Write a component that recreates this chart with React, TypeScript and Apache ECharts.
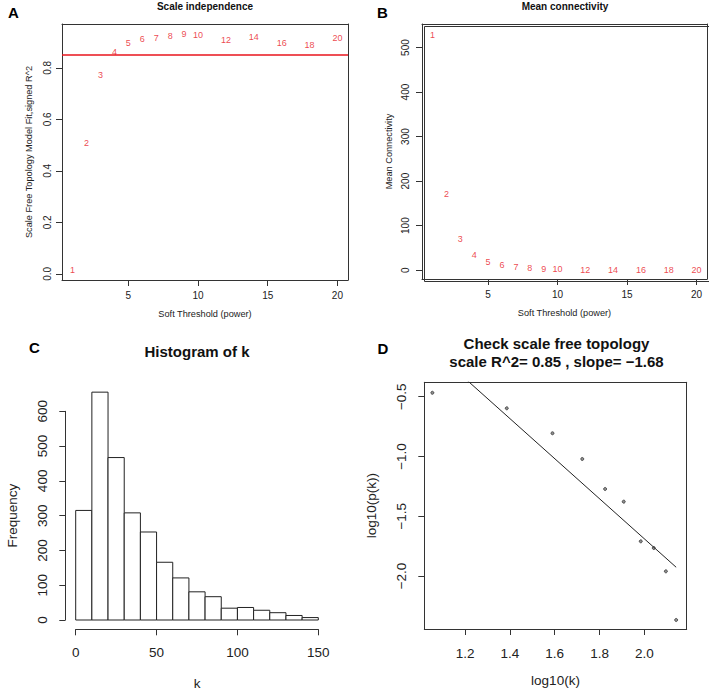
import React, { useEffect, useRef } from "react";
import * as echarts from "echarts";

// ---- Panel A / B : soft-threshold analysis ----
const powers = [1, 2, 3, 4, 5, 6, 7, 8, 9, 10, 12, 14, 16, 18, 20];
const scaleFitR2 = [0.013, 0.507, 0.773, 0.861, 0.895, 0.913, 0.917, 0.922, 0.933, 0.926, 0.908, 0.919, 0.895, 0.887, 0.914];
const meanConnectivity = [529, 171, 70, 34, 18, 10.5, 6.7, 4.5, 2.4, 1.5, 0.8, 0.5, 0.35, 0.25, 0.2];
const r2Cutoff = 0.85;
const powerTicks = [5, 10, 15, 20];
const r2Ticks = [0, 0.2, 0.4, 0.6, 0.8];
const connTicks = [0, 100, 200, 300, 400, 500];

// ---- Panel C : histogram of k ----
const histBinStarts = [0, 10, 20, 30, 40, 50, 60, 70, 80, 90, 100, 110, 120, 130, 140];
const histBinWidth = 10;
const histFreq = [315, 655, 467, 308, 253, 166, 121, 81, 67, 34, 36, 28, 21, 13, 7];
const kTicks = [0, 50, 100, 150];
const freqTicks = [0, 100, 200, 300, 400, 500, 600];

// ---- Panel D : scale free topology check ----
const logK = [1.054, 1.386, 1.59, 1.723, 1.825, 1.908, 1.984, 2.042, 2.096, 2.142];
const logPk = [-0.467, -0.597, -0.806, -1.021, -1.272, -1.378, -1.71, -1.766, -1.961, -2.368];
const fitLineX = [1.054, 2.142];
const fitLineY = [-0.103, -1.927];
const logKTicks = [1.2, 1.4, 1.6, 1.8, 2.0];
const logPkTicks = [-2.0, -1.5, -1.0, -0.5];

const FONT = "'Liberation Sans', Arial, Helvetica, sans-serif";
const AXC = "#333";

const fmt1 = (v: number) => (v < 0 ? "\u2212" + Math.abs(v).toFixed(1) : v.toFixed(1));

export default function App() {
  const ref = useRef<HTMLDivElement>(null);
  useEffect(() => {
    if (!ref.current) return;
    const chart = echarts.init(ref.current, undefined, { renderer: "svg" });

    const grid = (left: number, top: number, width: number, height: number) => ({
      left, top, width, height, containLabel: false, show: false,
    });

    const tick = (len: number) => ({ show: true, length: len, lineStyle: { color: AXC, width: 1 } });
    const line = { show: true, onZero: false, lineStyle: { color: AXC, width: 1 } };

    const frameX = (idx: number, min: number, max: number) => ({
      type: "value", gridIndex: idx, position: "top", min, max,
      axisLine: line, axisTick: { show: false }, axisLabel: { show: false }, splitLine: { show: false },
    });
    const frameY = (idx: number, min: number, max: number) => ({
      type: "value", gridIndex: idx, position: "right", min, max,
      axisLine: line, axisTick: { show: false }, axisLabel: { show: false }, splitLine: { show: false },
    });

    const smallX = (min: number, max: number, name: string, idx: number) => ({
      type: "value", gridIndex: idx, min, max, position: "bottom",
      axisLine: line, splitLine: { show: false },
      axisTick: { ...tick(6), customValues: powerTicks },
      axisLabel: { customValues: powerTicks, fontSize: 10, color: "#222", margin: 10, fontFamily: FONT },
      name, nameLocation: "middle", nameGap: 29,
      nameTextStyle: { fontSize: 9.2, color: "#222", fontFamily: FONT },
    });

    const option: any = {
      animation: false,
      textStyle: { fontFamily: FONT },
      grid: [
        grid(62, 24, 286, 256),
        grid(422, 24, 285, 255),
        grid(75.7, 376.5, 242.6, 243.5),
        grid(75.7, 411.3, 242.6, 208.7),
        grid(424.3, 382.3, 262.4, 246.7),
      ],
      xAxis: [
        smallX(0.24, 20.76, "Soft Threshold (power)", 0),
        smallX(0.24, 20.76, "Soft Threshold (power)", 1),
        {
          type: "value", gridIndex: 2, min: 0, max: 150, interval: 50, offset: 9.3,
          axisLine: line,
          splitLine: { show: false },
          axisTick: tick(6),
          axisLabel: { customValues: kTicks, fontSize: 13.5, color: "#222", margin: 16, fontFamily: FONT },
          name: "k", nameLocation: "middle", nameGap: 47,
          nameTextStyle: { fontSize: 13.5, color: "#222", fontFamily: FONT },
        },
        { type: "value", gridIndex: 3, min: 0, max: 150, show: false },
        {
          type: "value", gridIndex: 4, min: 1.018, max: 2.189, position: "bottom",
          axisLine: line, splitLine: { show: false },
          axisTick: { ...tick(6), customValues: logKTicks },
          axisLabel: { customValues: logKTicks, formatter: (v: number) => fmt1(v), fontSize: 13.5, color: "#222", margin: 17, fontFamily: FONT },
          name: "log10(k)", nameLocation: "middle", nameGap: 44,
          nameTextStyle: { fontSize: 13.5, color: "#222", fontFamily: FONT },
        },
        frameX(0, 0.24, 20.76),
        frameX(1, 0.24, 20.76),
        frameX(4, 1.018, 2.189),
      ],
      yAxis: [
        {
          type: "value", gridIndex: 0, min: -0.024, max: 0.97, position: "left",
          axisLine: line, splitLine: { show: false },
          axisTick: { ...tick(6), customValues: r2Ticks },
          axisLabel: { customValues: r2Ticks, rotate: 90, formatter: (v: number) => fmt1(v), fontSize: 10, color: "#222", margin: 9.5, fontFamily: FONT },
          name: "Scale Free Topology Model Fit,signed R^2", nameLocation: "middle", nameGap: 28.5,
          nameTextStyle: { fontSize: 9.2, color: "#222", fontFamily: FONT },
        },
        {
          type: "value", gridIndex: 1, min: -20, max: 553, position: "left",
          axisLine: line, splitLine: { show: false },
          axisTick: { ...tick(6), customValues: connTicks },
          axisLabel: { customValues: connTicks, rotate: 90, fontSize: 10, color: "#222", margin: 12, fontFamily: FONT },
          name: "Mean Connectivity", nameLocation: "middle", nameGap: 28.5,
          nameTextStyle: { fontSize: 9.2, color: "#222", fontFamily: FONT },
        },
        { type: "value", gridIndex: 2, min: 0, max: 700, show: false },
        {
          type: "value", gridIndex: 3, min: 0, max: 600, interval: 100, offset: 10.4,
          axisLine: line,
          splitLine: { show: false },
          axisTick: tick(6),
          axisLabel: { customValues: freqTicks, rotate: 90, fontSize: 13.5, color: "#222", margin: 16, fontFamily: FONT },
          name: "Frequency", nameLocation: "middle", nameGap: 46,
          nameTextStyle: { fontSize: 13.5, color: "#222", fontFamily: FONT },
        },
        {
          type: "value", gridIndex: 4, min: -2.4435, max: -0.3795, position: "left",
          axisLine: line, splitLine: { show: false },
          axisTick: { ...tick(6), customValues: logPkTicks },
          axisLabel: { customValues: logPkTicks, rotate: 90, formatter: (v: number) => fmt1(v), fontSize: 13.5, color: "#222", margin: 16, fontFamily: FONT },
          name: "log10(p(k))", nameLocation: "middle", nameGap: 46,
          nameTextStyle: { fontSize: 13.5, color: "#222", fontFamily: FONT },
        },
        frameY(0, -0.024, 0.97),
        frameY(1, -20, 553),
        frameY(4, -2.4435, -0.3795),
      ],
      series: [
        {
          type: "scatter", xAxisIndex: 0, yAxisIndex: 0,
          data: powers.map((p, i) => [p, scaleFitR2[i]]),
          symbolSize: 1, itemStyle: { color: "rgba(0,0,0,0)" },
          label: { show: true, position: "inside", formatter: (p: any) => String(p.value[0]), color: "#e8141c", fontSize: 9, fontFamily: FONT },
          markLine: {
            silent: true, symbol: ["none", "none"], label: { show: false },
            lineStyle: { color: "#e8141c", width: 1.5, type: "solid" },
            data: [{ yAxis: r2Cutoff }],
          },
        },
        {
          type: "scatter", xAxisIndex: 1, yAxisIndex: 1,
          data: powers.map((p, i) => [p, meanConnectivity[i]]),
          symbolSize: 1, itemStyle: { color: "rgba(0,0,0,0)" },
          label: { show: true, position: "inside", formatter: (p: any) => String(p.value[0]), color: "#e8141c", fontSize: 9, fontFamily: FONT },
        },
        {
          type: "custom", xAxisIndex: 2, yAxisIndex: 2,
          data: histBinStarts.map((s, i) => [s, s + histBinWidth, histFreq[i]]),
          encode: { x: [0, 1], y: 2 },
          renderItem: (params: any, api: any) => {
            const p0 = api.coord([api.value(0), 0]);
            const p1 = api.coord([api.value(1), api.value(2)]);
            return {
              type: "rect",
              shape: { x: p0[0], y: p1[1], width: p1[0] - p0[0], height: p0[1] - p1[1] },
              style: { fill: "#fff", stroke: "#222", lineWidth: 1 },
            };
          },
        },
        {
          type: "scatter", xAxisIndex: 4, yAxisIndex: 4,
          data: logK.map((x, i) => [x, logPk[i]]),
          symbol: "circle", symbolSize: 3,
          itemStyle: { color: "#777", borderColor: "#333", borderWidth: 1 },
        },
        {
          type: "line", xAxisIndex: 4, yAxisIndex: 4, clip: true,
          data: fitLineX.map((x, i) => [x, fitLineY[i]]),
          symbol: "none", lineStyle: { color: "#222", width: 1 },
        },
      ],
      graphic: [
        { type: "rect", left: 422, top: 24, z: 50, shape: { x: 0, y: 0, width: 285, height: 255 }, style: { fill: "none", stroke: AXC, lineWidth: 1 } },
        { type: "text", x: 8, y: 5, style: { text: "A", font: `bold 15px ${FONT}`, fill: "#000", textAlign: "left", textVerticalAlign: "top" } },
        { type: "text", x: 377, y: 5, style: { text: "B", font: `bold 15px ${FONT}`, fill: "#000", textAlign: "left", textVerticalAlign: "top" } },
        { type: "text", x: 29, y: 340, style: { text: "C", font: `bold 15px ${FONT}`, fill: "#000", textAlign: "left", textVerticalAlign: "top" } },
        { type: "text", x: 377.5, y: 341, style: { text: "D", font: `bold 15px ${FONT}`, fill: "#000", textAlign: "left", textVerticalAlign: "top" } },
        { type: "text", x: 205, y: 1, style: { text: "Scale independence", font: `bold 10px ${FONT}`, fill: "#111", textAlign: "center", textVerticalAlign: "top" } },
        { type: "text", x: 565, y: 1, style: { text: "Mean connectivity", font: `bold 10px ${FONT}`, fill: "#111", textAlign: "center", textVerticalAlign: "top" } },
        { type: "text", x: 197, y: 344, style: { text: "Histogram of k", font: `bold 15px ${FONT}`, fill: "#111", textAlign: "center", textVerticalAlign: "top" } },
        { type: "text", x: 556.5, y: 335, style: { text: "Check scale free topology\nscale R^2= 0.85 , slope= \u22121.68", font: `bold 15px ${FONT}`, lineHeight: 17.5, fill: "#111", textAlign: "center", textVerticalAlign: "top" } },
      ],
    };

    chart.setOption(option);
    return () => chart.dispose();
  }, []);

  return (
    <div
      ref={ref}
      style={{ position: "absolute", left: 0, top: 0, width: 709, height: 693, background: "#fff" }}
    />
  );
}
